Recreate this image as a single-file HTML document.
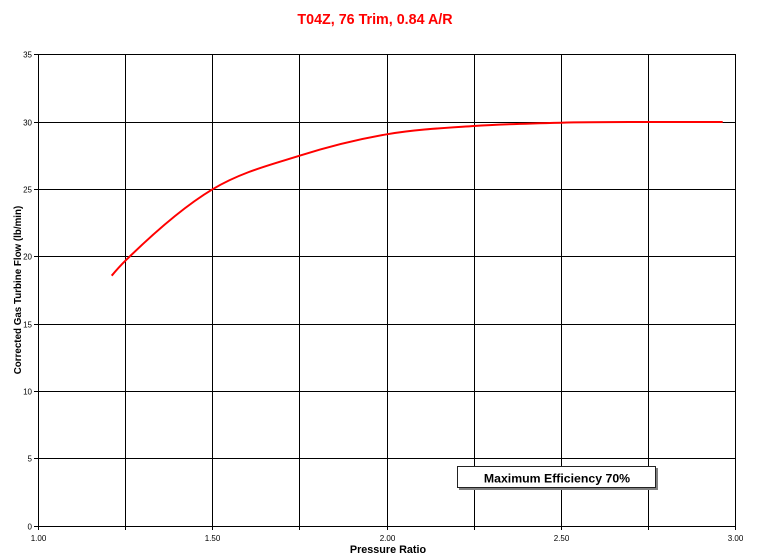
<!DOCTYPE html>
<html>
<head>
<meta charset="utf-8">
<style>
  html, body { margin:0; padding:0; background:#fff; }
  svg { display:block; }
  text { font-family: "Liberation Sans", Arial, sans-serif; }
</style>
</head>
<body>
<svg width="761" height="557" viewBox="0 0 761 557" xmlns="http://www.w3.org/2000/svg">
  <rect x="0" y="0" width="761" height="557" fill="#fff"/>
  <!-- Title -->
  <text x="375" y="24" text-anchor="middle" font-size="14.3" font-weight="bold" fill="#ff0000">T04Z, 76 Trim, 0.84 A/R</text>

  <!-- Grid -->
  <g stroke="#000" stroke-width="1" shape-rendering="crispEdges" fill="none">
    <line x1="38" y1="54.5" x2="736" y2="54.5"/>
    <line x1="38" y1="122.5" x2="736" y2="122.5"/>
    <line x1="38" y1="189.5" x2="736" y2="189.5"/>
    <line x1="38" y1="256.5" x2="736" y2="256.5"/>
    <line x1="38" y1="324.5" x2="736" y2="324.5"/>
    <line x1="38" y1="391.5" x2="736" y2="391.5"/>
    <line x1="38" y1="458.5" x2="736" y2="458.5"/>
    <line x1="34" y1="526.5" x2="736" y2="526.5"/>

    <line x1="38.5" y1="54" x2="38.5" y2="530"/>
    <line x1="125.5" y1="54" x2="125.5" y2="530"/>
    <line x1="212.5" y1="54" x2="212.5" y2="530"/>
    <line x1="299.5" y1="54" x2="299.5" y2="530"/>
    <line x1="387.5" y1="54" x2="387.5" y2="530"/>
    <line x1="474.5" y1="54" x2="474.5" y2="530"/>
    <line x1="561.5" y1="54" x2="561.5" y2="530"/>
    <line x1="648.5" y1="54" x2="648.5" y2="530"/>
    <line x1="735.5" y1="54" x2="735.5" y2="530"/>

    <!-- y ticks -->
    <line x1="34" y1="54.5" x2="38" y2="54.5"/>
    <line x1="34" y1="122.5" x2="38" y2="122.5"/>
    <line x1="34" y1="189.5" x2="38" y2="189.5"/>
    <line x1="34" y1="256.5" x2="38" y2="256.5"/>
    <line x1="34" y1="324.5" x2="38" y2="324.5"/>
    <line x1="34" y1="391.5" x2="38" y2="391.5"/>
    <line x1="34" y1="458.5" x2="38" y2="458.5"/>
  </g>

  <!-- Y tick labels -->
  <g font-size="8" fill="#000" text-anchor="end">
    <text x="32" y="57.5">35</text>
    <text x="32" y="125.5">30</text>
    <text x="32" y="192.5">25</text>
    <text x="32" y="259.5">20</text>
    <text x="32" y="327.5">15</text>
    <text x="32" y="394.5">10</text>
    <text x="32" y="461.5">5</text>
    <text x="32" y="529.5">0</text>
  </g>

  <!-- X tick labels -->
  <g font-size="8" fill="#000" text-anchor="middle">
    <text x="38.5" y="541">1.00</text>
    <text x="212.5" y="541">1.50</text>
    <text x="387.5" y="541">2.00</text>
    <text x="561.5" y="541">2.50</text>
    <text x="735.5" y="541">3.00</text>
  </g>

  <!-- Axis titles -->
  <text x="388" y="553" text-anchor="middle" font-size="10.8" font-weight="bold" fill="#000">Pressure Ratio</text>
  <text transform="translate(21,290) rotate(-90)" text-anchor="middle" font-size="9.8" font-weight="bold" fill="#000">Corrected Gas Turbine Flow (lb/min)</text>

  <!-- Curve -->
  <path d="M111.7,275.7
           C116.27,270.22 120.83,265.18 125.4,260.7
           C154.43,232.25 183.47,206.72 212.5,189.3
           C241.53,171.88 270.57,164.87 299.6,155.7
           C328.67,146.51 357.73,139.24 386.8,134.3
           C415.83,129.36 444.87,127.95 473.9,126.0
           C502.93,124.06 531.97,123.37 561.0,122.7
           C590.03,122.03 619.07,122.12 648.1,122.0
           L722.7,122.0"
        fill="none" stroke="#ff0000" stroke-width="2"/>

  <!-- Legend box -->
  <rect x="459" y="468" width="199" height="22" fill="#808080"/>
  <rect x="457.5" y="466.5" width="198" height="21" fill="#fff" stroke="#222" stroke-width="1" shape-rendering="crispEdges"/>
  <text x="557" y="482.5" text-anchor="middle" font-size="12.3" font-weight="bold" fill="#000">Maximum Efficiency 70%</text>
</svg>
</body>
</html>
